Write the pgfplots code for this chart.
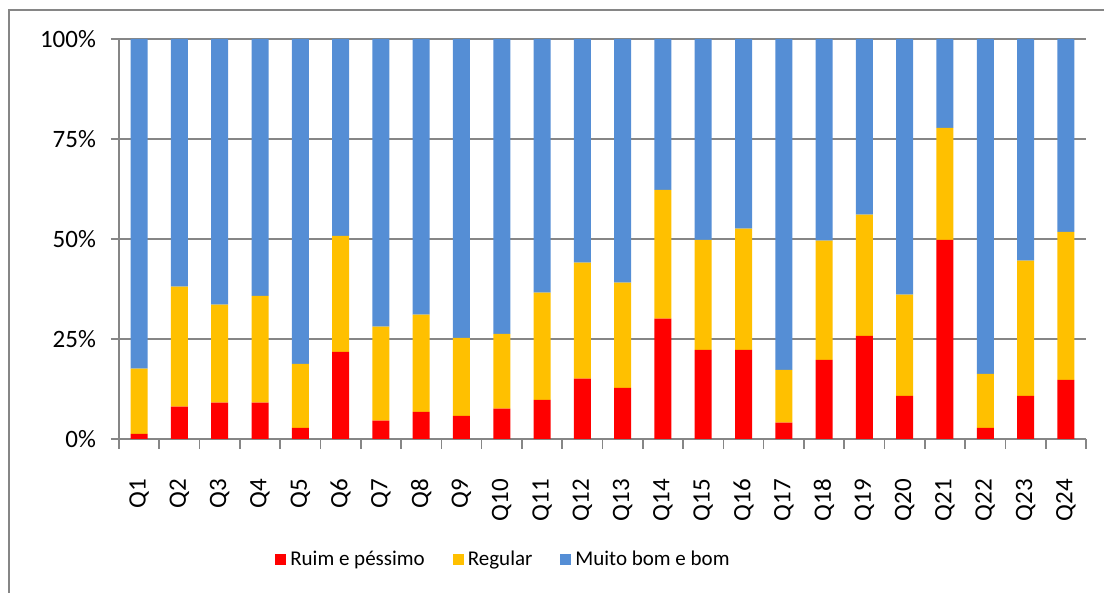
\documentclass[border=0pt]{standalone}
\usepackage{fontspec}
\setmainfont{Carlito}
\usepackage{pgfplots}
\usepackage{pgfplotstable}
\pgfplotsset{compat=1.18}

\definecolor{ruim}{HTML}{FF0000}
\definecolor{regular}{HTML}{FFC000}
\definecolor{muitobom}{HTML}{558ED5}
\definecolor{gridgray}{HTML}{868686}

% share of answers per question (%)
\pgfplotstableread{
x  ruim  reg   bom
1  1.3   16.3  82.4
2  8.1   30.0  61.9
3  9.1   24.5  66.4
4  9.1   26.7  64.2
5  2.8   16.0  81.2
6  21.8  29.0  49.2
7  4.6   23.5  71.9
8  6.8   24.3  68.9
9  5.8   19.5  74.7
10 7.6   18.7  73.7
11 9.8   26.8  63.4
12 15.1  29.0  55.9
13 12.8  26.3  60.9
14 30.1  32.2  37.7
15 22.3  27.5  50.2
16 22.3  30.3  47.4
17 4.1   13.2  82.7
18 19.8  29.8  50.4
19 25.8  30.3  43.9
20 10.8  25.3  63.9
21 49.8  28.0  22.2
22 2.8   13.5  83.7
23 10.8  33.8  55.4
24 14.8  37.0  48.2
}\dados

\begin{document}
\begin{tikzpicture}
\useasboundingbox (-59.5pt,-77pt) rectangle (492.5pt,219.5pt);
\draw[gridgray,line width=1pt] (-55pt,-90pt) -- (-55pt,214.5pt) -- (520pt,214.5pt);
\begin{axis}[
  name=ax,
  at={(0,0)}, anchor=south west,
  scale only axis,
  width=483.5pt, height=200pt,
  ybar stacked,
  bar width=8.5pt,
  xmin=0.5, xmax=24.5,
  ymin=0, ymax=100,
  axis lines*=left,
  axis line style={gridgray,line width=0.8pt},
  tick align=outside,
  tick style={gridgray,line width=0.8pt},
  major tick length=4pt,
  minor tick length=5pt,
  xtick={1,...,24},
  xticklabels={Q1,Q2,Q3,Q4,Q5,Q6,Q7,Q8,Q9,Q10,Q11,Q12,Q13,Q14,Q15,Q16,Q17,Q18,Q19,Q20,Q21,Q22,Q23,Q24},
  major x tick style={draw=none},
  minor xtick={0.5,1.5,...,24.5},
  xticklabel style={rotate=90,anchor=east,font=\fontsize{12.5}{14}\selectfont},
  xticklabel shift=12.5pt,
  ytick={0,25,50,75,100},
  yticklabels={0\%,25\%,50\%,75\%,100\%},
  yticklabel style={font=\fontsize{12.5}{14}\selectfont},
  yticklabel shift=4pt,
  ymajorgrids,
  grid style={gridgray,line width=0.8pt},
  legend columns=3,
  legend style={at={(0.155,-0.3025)},anchor=west,draw=none,fill=none,
    font=\fontsize{10.5}{12}\selectfont,
    /tikz/every even column/.append style={column sep=12pt}},
  legend image code/.code={\path[#1,draw=none] (0pt,-2.75pt) rectangle (5.5pt,2.75pt);},
]
\addplot[fill=ruim,draw=none] table[x=x,y=ruim] {\dados};
\addplot[fill=regular,draw=none] table[x=x,y=reg] {\dados};
\addplot[fill=muitobom,draw=none] table[x=x,y=bom] {\dados};
\legend{Ruim e péssimo,Regular,Muito bom e bom}
\end{axis}
\end{tikzpicture}
\end{document}
